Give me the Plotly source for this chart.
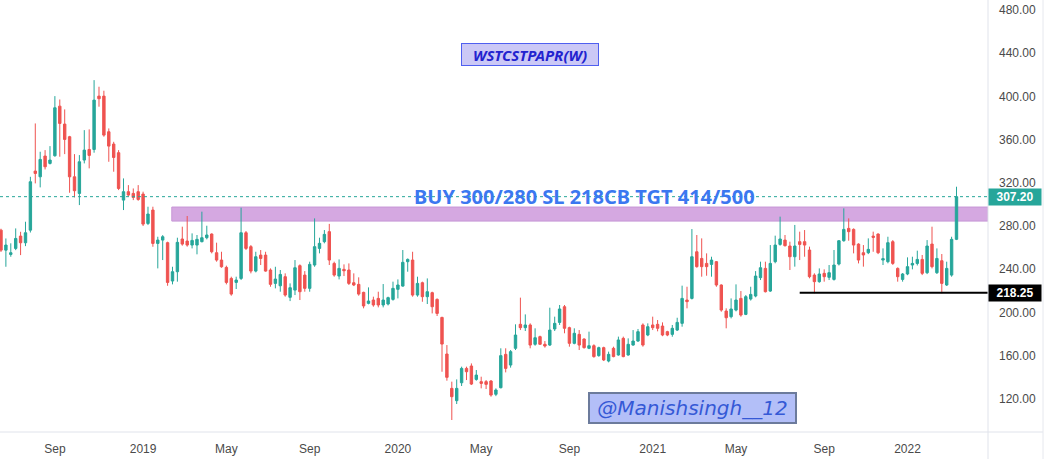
import pandas as pd
import plotly.graph_objects as go

# Weekly candles (West Coast Paper, weekly)
start_week = "2018-06-18"
opens = [276.2,257.7,253.7,259.3,270.7,264.5,276.2,330.9,325.6,344.8,338,345.1,391,374.4,362.7,325.6,310.2,341.1,350.9,350.9,
         400.3,400.3,367.3,355.9,347.9,304,311.8,310.2,311.8,309.6,282.4,294.8,263.9,267,264.6,229.1,237.7,268,266.1,262.4,
         262.4,265.5,269.2,272.6,255.3,248.5,241.7,231.5,227.8,231.5,273.8,260.9,238.3,253.1,253.1,239.3,226.9,224.7,233.1,214,
         220.7,243.3,234.6,222.3,243.9,259.3,265.5,274.8,245.4,233.7,239.9,239.3,227.5,226,218.6,208.4,211.5,213,206.9,207.8,
         212.1,221.4,224.4,247,248.5,216.1,227.5,214.6,218.3,212.1,195.4,161.5,129.7,118.3,134.9,148.2,150.4,138,135.9,135.9,
         136.5,124.2,130.3,161.2,151.3,166.8,189,185.9,188.4,170.5,177.6,170.5,169.8,184.7,190.8,205.3,185.9,171.4,179.7,175.4,
         166.8,169.2,160,167.4,155,166.8,160.6,176,160.6,169.8,173.5,188.4,179.1,188.4,189,187.4,182.2,179.7,183.7,189.9,
         211.5,213,256.2,250,245.4,244.5,247,225.4,201.3,196.1,202.2,213,198.2,212.4,215.2,232.2,240.8,219.8,247,263,
         267,261.5,251.6,265.5,265.5,257.8,234.6,228.5,236.2,232.5,230.6,244.8,266.4,277.8,276.9,263.3,255.3,255.3,270.7,272.6,
         248.5,247,265.5,240.8,230.6,235.6,243.9,245.4,249.1,236.8,263.3,236.8,247.9,225.4,234.6,267.7]
highs = [277.5,268.5,264,277.8,274.7,284,325.6,375,348.8,350.3,354,400.3,397.2,388,363.5,346.6,345.7,368.8,369.5,415.1,
         409,405.3,370.4,358,350.3,324.1,317.9,314.8,317.9,311.8,297.9,297.9,270.1,271.6,265.5,242.3,269.2,279.4,289.3,273.2,
         271.7,293.3,280.3,273.2,264.6,256.2,243.3,233.1,233.1,297,275.4,262.4,256.2,257.8,256.2,240.8,242.3,239.3,236.2,226.9,
         248.5,244.5,238.3,247,287.1,269.2,276.3,282,247,249.1,244.5,245.4,236.2,232.5,219.2,223.2,214.6,219.2,226.3,214.6,
         228.5,230.6,257.8,250,256.2,233.1,228.5,231.5,219.2,213,196,169.8,135.9,138,149.8,149.8,152.8,146.7,140.5,137.4,
         137.4,129.7,166.8,166.8,165.2,189,213.7,198.2,189.9,185.3,178.5,173.5,204.4,196.1,206.9,206.9,186.8,185.3,183.7,176,
         182.2,170.5,168.3,168.3,163.7,168.3,177.6,177.6,176,183.7,184.7,189.9,189.9,196.1,193,190.8,183,188.4,195.1,224.8,
         223.8,277.2,271.7,268.6,254.7,251.6,247.6,226,203.8,213,226,219.8,216.1,223.8,238.3,247,247,262.4,271.1,288.7,
         271.7,265.5,281,274.8,276.3,260.9,236.2,240.8,239.9,243.9,257.8,267,296.4,287.1,277.8,264,262.4,268.6,274.8,273.2,
         259.3,270.1,267,241.7,236.5,251,251.6,257.2,253.2,267,279.4,259.3,254.1,247,270.1,316.4]
lows = [256,242.3,251.6,257.7,253.1,261.4,274,319.5,315.8,332.4,337,344.2,344.2,346.6,310.8,306.5,299.4,338,333.4,347.9,
        390.5,362.7,339.5,330.3,313.3,294.8,307.5,304,303.4,280,280.9,260.8,240.8,248.5,224.7,226,228.5,261.8,260.9,259.3,
        253.8,264.9,267.7,254.7,247,241.4,226,215.5,221.7,230,257.8,236.2,237.1,243.9,237.7,223.8,222.3,219.2,214.6,210.5,
        216.1,211.5,219.2,219.2,242.3,254.7,264,243.9,233.1,230.6,233.7,225.4,224.4,215.5,203.8,207.5,205.3,204.7,204.7,206.5,
        210.9,213,223.8,237.7,214.6,214.6,209.9,207.8,199.1,196.7,145.1,136.8,100.4,115.2,131.9,137.4,132.8,136.8,129.7,129.1,
        122,122.5,129.7,144.5,148.9,165.2,183.7,182.8,166.8,169.2,170,167.4,169,182.8,188.4,180.7,168.3,170.5,165.2,166.5,
        166,158.1,159,155,153.8,158.5,160,158.5,160,169.2,172.8,168.3,178,183.7,182.5,178,178,177.5,182.8,186.8,
        203.8,212,241.4,233.1,234,233.1,223.8,200.7,185.3,194.5,201,196.1,197.5,211,214,230,218.5,219,245.5,261.8,
        261,239.3,242.4,248.5,251.6,231.6,217.7,227.5,228.5,230,229.5,243.5,265.5,266.4,254.7,245.4,242.4,254,256.2,254,
        243.9,245.5,244,228.5,228.5,234.5,239.9,243.5,234.6,235.5,240.8,235.6,217.7,224.5,233.1,267]
closes = [257.7,262.4,255.3,268.5,264.5,273.8,321,328.7,341.7,334.9,341.1,389.5,375,360.2,325.6,312.7,339.5,350.3,345.4,396.6,
          397.9,364.2,354,343.5,314.8,311.8,308.7,306.5,304.6,281.8,291.1,263.9,267,270.1,227.8,237.7,264.9,263.3,262.4,266.7,
          267.7,269.2,271.7,256.2,248.5,242.3,227.8,217,230,273.8,259.3,238.3,251.6,250,238.3,226,230.9,235.2,216.1,222.9,
          241.4,219.2,222.3,244.5,260.9,264,272.3,248.5,234.6,240.8,238.6,226.9,225.4,217,206,210.6,206.9,206.9,211.5,213.7,
          222.3,225.4,246.4,249.1,216.1,226.9,214.6,219.2,205.3,199.1,170.7,139.9,122,129.7,148.2,145.1,133.7,142,134.3,133.4,
          123.5,128.2,160,148.2,163.7,179.1,185.9,188.4,169.8,176.6,170.5,168.9,183.7,189.9,203.2,185.3,171.4,180.7,169.8,167.4,
          169.2,159.1,167.4,156,161.2,159.1,174.5,159.1,170.5,173.5,182.2,169.8,186.8,185.9,185.3,179.1,179.1,185.3,190.8,213,
          210,251.6,242.4,242.4,242.4,248.5,225.4,202.2,195.1,203.2,211.5,197.6,214.6,216.7,233.7,241.4,219.2,245.4,262.4,268,
          261.8,251.6,261.5,263,262.4,233.1,228.5,235.6,233.1,236.8,243.9,266.4,276.9,274.8,262.4,248.5,253.2,258.4,269.5,255.3,
          249.8,264.6,245.4,233.1,235.6,242.4,245.4,249.1,236.2,261.5,242.4,250,226.9,240.8,267.7,307.2]

# Tick labels of the time axis
x_tick_dates = ["2018-09-03", "2019-01-07", "2019-05-06", "2019-09-02", "2020-01-06", "2020-05-04",
                "2020-09-07", "2021-01-04", "2021-05-03", "2021-09-06", "2022-01-03"]
x_tick_text = ["Sep", "2019", "May", "Sep", "2020", "May", "Sep", "2021", "May", "Sep", "2022"]
y_tick_vals = [120, 160, 200, 240, 280, 320, 360, 400, 440, 480]

# Drawn levels
zone_low, zone_high = 284.6, 297.6
zone_start_idx = 35
stop_level = 218.25
stop_start_idx = 163
last_price = closes[-1]

dates = pd.date_range(start_week, periods=len(closes), freq="7D")
x_start = pd.Timestamp("2018-06-16 14:00")
x_end = pd.Timestamp("2022-04-28")

GREEN = "#26a69a"
RED = "#ef5350"

fig = go.Figure()
fig.add_trace(go.Candlestick(
    x=dates, open=opens, high=highs, low=lows, close=closes,
    increasing=dict(line=dict(color=GREEN, width=1), fillcolor=GREEN),
    decreasing=dict(line=dict(color=RED, width=1), fillcolor=RED),
    whiskerwidth=0, showlegend=False, hoverinfo="skip",
))

shapes = [
    dict(type="rect", xref="x", yref="y", x0=dates[zone_start_idx] - pd.Timedelta(days=1), x1=x_end,
         y0=zone_low, y1=zone_high, fillcolor="#d5a8e1", line=dict(color="#c797d6", width=1), layer="below"),
    dict(type="line", xref="paper", yref="y", x0=0, x1=1, y0=last_price, y1=last_price,
         line=dict(color=GREEN, width=1, dash="dot")),
    dict(type="line", xref="x", yref="y", x0=dates[stop_start_idx], x1=x_end, y0=stop_level, y1=stop_level,
         line=dict(color="#000000", width=2)),
    dict(type="line", xref="paper", yref="paper", x0=0, x1=1043 / 988, y0=0, y1=0,
         line=dict(color="#e0e3eb", width=1)),
    dict(type="line", xref="paper", yref="paper", x0=1, x1=1, y0=-27 / 432, y1=1,
         line=dict(color="#e0e3eb", width=1)),
    dict(type="line", xref="paper", yref="paper", x0=1043 / 988, x1=1043 / 988, y0=-27 / 432, y1=1,
         line=dict(color="#e6e8ee", width=1)),
]

annotations = [
    dict(xref="paper", yref="paper", x=529.5 / 988, y=1 - 54 / 432, xanchor="center", yanchor="middle",
         text="<b><i>WSTCSTPAPR(W)</i></b>",
         showarrow=False, font=dict(family="Noto Sans", size=15, color="#2323cf"),
         bgcolor="#cbc8f6", bordercolor="#4f5ff0", borderwidth=1, width=134, height=19),
    dict(xref="paper", yref="y", x=584 / 988, y=307.8, xanchor="center", yanchor="middle",
         text="<b>BUY 300/280 SL 218CB TGT 414/500</b>",
         showarrow=False, font=dict(family="Noto Sans", size=20, color="#3b78f0")),
    dict(xref="paper", yref="paper", x=692.5 / 988, y=1 - 408 / 432, xanchor="center", yanchor="middle",
         text="<i>@Manishsingh__12</i>",
         showarrow=False, font=dict(family="DejaVu Sans", size=20, color="#3559d6"),
         bgcolor="#b3bff8", bordercolor="#6c7b9c", borderwidth=2, width=203, height=26),
    dict(xref="paper", yref="y", x=1, xanchor="left", y=last_price, yanchor="middle",
         text="<b>%.2f</b>" % last_price,
         showarrow=False, font=dict(family="Liberation Sans", size=12, color="#ffffff"),
         bgcolor=GREEN, width=50, height=14, borderpad=1),
    dict(xref="paper", yref="y", x=1, xanchor="left", y=stop_level, yanchor="middle",
         text="<b>%.2f</b>" % stop_level,
         showarrow=False, font=dict(family="Liberation Sans", size=12, color="#ffffff"),
         bgcolor="#000000", width=50, height=14, borderpad=1),
]

fig.update_layout(
    width=1054, height=459,
    margin=dict(l=0, r=66, t=0, b=27),
    paper_bgcolor="#ffffff", plot_bgcolor="#ffffff",
    shapes=shapes, annotations=annotations,
    xaxis=dict(type="date", range=[x_start, x_end], rangeslider=dict(visible=False),
               tickvals=x_tick_dates, ticktext=x_tick_text, showgrid=False, zeroline=False,
               showline=False, ticks="", ticklabelstandoff=8,
               tickfont=dict(family="Liberation Sans Narrow, Liberation Sans", size=12, color="#4a4a4a")),
    yaxis=dict(side="right", range=[89.3, 489.3], tickvals=y_tick_vals, tickformat=".2f",
               showgrid=False, zeroline=False, showline=False, ticks="", ticklabelstandoff=10,
               tickfont=dict(family="Liberation Sans", size=12, color="#4a4a4a")),
)

fig.write_html("out.html")
